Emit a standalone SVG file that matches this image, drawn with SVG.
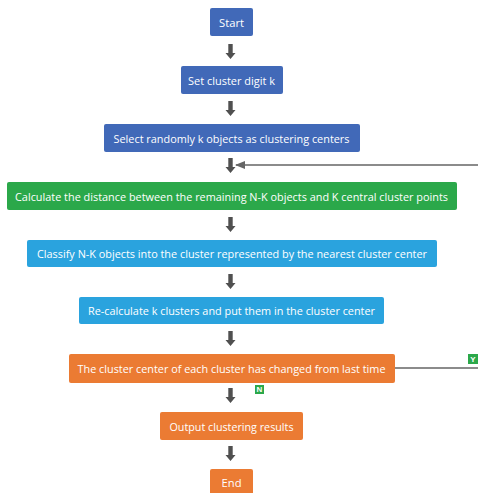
<svg xmlns="http://www.w3.org/2000/svg" width="478" height="493" viewBox="0 0 478 493">
<style>
.box{stroke:none}
.db{fill:#4169B8}
.gr{fill:#2BA84A}
.lb{fill:#2AA3DE}
.or{fill:#EB7B33}
.t{font-family:"Open Sans","Liberation Sans",sans-serif;font-size:11.5px;fill:#fff;text-anchor:middle;dominant-baseline:central}
.tag{font-family:"Liberation Sans",sans-serif;font-size:8px;font-weight:bold;fill:#fff;text-anchor:middle;dominant-baseline:central}
.arr{fill:#505050}
.fb{fill:none;stroke:#666;stroke-width:1.5}
</style>
<defs>
<path id="ba" d="M-2.2,0 H2.2 V9 H5 L0,15 L-5,9 H-2.2 Z"/>
<marker id="ah" markerWidth="10" markerHeight="8" refX="9" refY="4" orient="auto" markerUnits="userSpaceOnUse">
<path d="M0,0 L10,4 L0,8 Z" fill="#666"/>
</marker>
</defs>
<rect width="478" height="493" fill="#fff"/>
<g id="connectors">
<use href="#ba" class="arr" x="230.5" y="44"/>
<use href="#ba" class="arr" x="230.5" y="101"/>
<use href="#ba" class="arr" x="230.5" y="158"/>
<use href="#ba" class="arr" x="230.5" y="217"/>
<use href="#ba" class="arr" x="230.5" y="274"/>
<use href="#ba" class="arr" x="230.5" y="331"/>
<use href="#ba" class="arr" x="230.5" y="388"/>
<use href="#ba" class="arr" x="230.5" y="446"/>
<path class="fb" d="M395,368 H481 V165 H236" marker-end="url(#ah)"/>
<g id="label-Y"><rect x="468" y="354" width="10" height="10" fill="#2BA84A"/><text class="tag" x="473" y="359">Y</text></g>
<g id="label-N"><rect x="255" y="385" width="9" height="9" fill="#2BA84A"/><text class="tag" x="259.5" y="389.5">N</text></g>
</g>
<g id="start"><rect class="box db" x="210" y="8" width="43" height="28" rx="2"/><text class="t" x="231.5" y="22" textLength="25" lengthAdjust="spacingAndGlyphs">Start</text></g>
<g id="set-k"><rect class="box db" x="181" y="66" width="102" height="28" rx="2"/><text class="t" x="231.5" y="80" textLength="87" lengthAdjust="spacingAndGlyphs">Set cluster digit k</text></g>
<g id="select"><rect class="box db" x="104" y="124" width="256" height="28" rx="2"/><text class="t" x="231.5" y="138" textLength="236" lengthAdjust="spacingAndGlyphs">Select randomly k objects as clustering centers</text></g>
<g id="calc"><rect class="box gr" x="7" y="182" width="450" height="28" rx="2"/><text class="t" x="231.5" y="196" textLength="433" lengthAdjust="spacingAndGlyphs">Calculate the distance between the remaining N-K objects and K central cluster points</text></g>
<g id="classify"><rect class="box lb" x="27" y="240" width="410" height="27" rx="2"/><text class="t" x="232" y="253.5" textLength="390" lengthAdjust="spacingAndGlyphs">Classify N-K objects into the cluster represented by the nearest cluster center</text></g>
<g id="recalc"><rect class="box lb" x="79" y="297" width="305" height="27" rx="2"/><text class="t" x="231.5" y="310.5" textLength="287" lengthAdjust="spacingAndGlyphs">Re-calculate k clusters and put them in the cluster center</text></g>
<g id="changed"><rect class="box or" x="69" y="354" width="326" height="29" rx="2"/><text class="t" x="231.5" y="368.5" textLength="308" lengthAdjust="spacingAndGlyphs">The cluster center of each cluster has changed from last time</text></g>
<g id="output"><rect class="box or" x="160" y="412" width="143" height="28" rx="2"/><text class="t" x="231.5" y="426" textLength="124" lengthAdjust="spacingAndGlyphs">Output clustering results</text></g>
<g id="end"><rect class="box or" x="210" y="469" width="43" height="28" rx="2"/><text class="t" x="231.5" y="482" textLength="20" lengthAdjust="spacingAndGlyphs">End</text></g>
</svg>
